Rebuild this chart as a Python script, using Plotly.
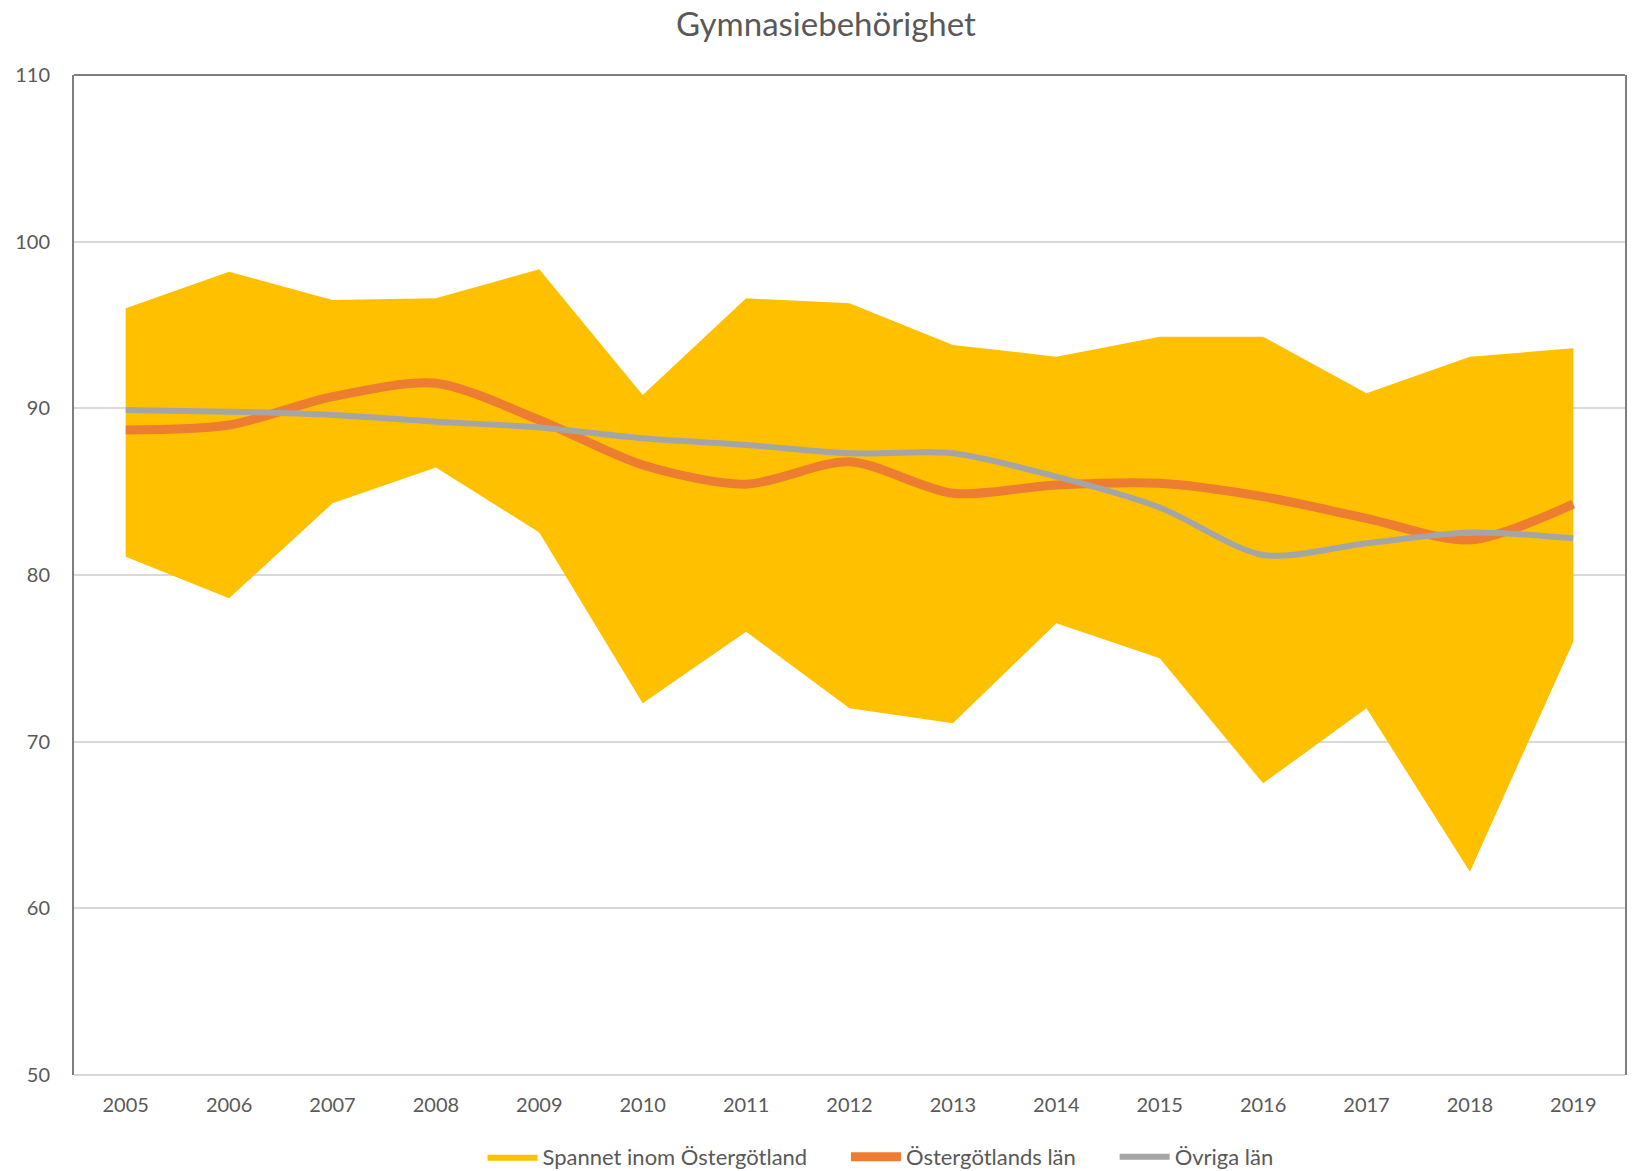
import plotly.graph_objects as go

years = ["2005", "2006", "2007", "2008", "2009", "2010", "2011", "2012",
         "2013", "2014", "2015", "2016", "2017", "2018", "2019"]
span_high = [96.0, 98.2, 96.5, 96.6, 98.35, 90.8, 96.6, 96.3, 93.8, 93.1, 94.3, 94.3, 90.9, 93.1, 93.6]
span_low = [81.1, 78.6, 84.3, 86.45, 82.55, 72.3, 76.6, 72.0, 71.1, 77.1, 75.0, 67.5, 72.0, 62.2, 76.0]
ostergotland = [88.7, 89.0, 90.7, 91.5, 89.3, 86.6, 85.45, 86.8, 84.9, 85.4, 85.5, 84.7, 83.4, 82.1, 84.25]
ovriga = [89.9, 89.8, 89.6, 89.2, 88.85, 88.2, 87.8, 87.3, 87.3, 85.9, 84.05, 81.2, 81.9, 82.55, 82.2]

FONT = "Lato"
TXT = "#595959"
PAD = "\u00a0" * 6

W, H = 1636, 1163  # page body has an 8px margin

fig = go.Figure()
fig.add_trace(go.Scatter(x=years, y=span_low, mode="lines", line=dict(width=0, color="#FFC000"),
                         showlegend=False, hoverinfo="skip"))
fig.add_trace(go.Scatter(x=years, y=span_high, mode="lines", line=dict(width=0, color="#FFC000"),
                         fill="tonexty", fillcolor="#FFC000", name="Spannet inom Östergötland" + PAD))
fig.add_trace(go.Scatter(x=years, y=ostergotland, mode="lines",
                         line=dict(color="#ED7D31", width=9, shape="spline", smoothing=0.8),
                         name="Östergötlands län" + PAD))
fig.add_trace(go.Scatter(x=years, y=ovriga, mode="lines",
                         line=dict(color="#A5A5A5", width=6, shape="spline", smoothing=0.8),
                         name="Övriga län"))

fig.update_layout(
    width=W, height=H,
    paper_bgcolor="white", plot_bgcolor="white",
    margin=dict(l=66, r=19, t=67, b=96, autoexpand=False),
    font=dict(family=FONT, color=TXT, size=20),
    title=dict(text="Gymnasiebehörighet", x=0.5, xanchor="center", y=1 - 16 / H, yanchor="middle",
               font=dict(family=FONT, size=33, color=TXT)),
    xaxis=dict(type="category", range=[-0.5, 14.5], showgrid=False, showline=False, zeroline=False,
               tickfont=dict(size=20, color=TXT), ticklabelstandoff=16, automargin=False),
    yaxis=dict(range=[50, 110], dtick=10, showgrid=True, gridcolor="#D9D9D9", gridwidth=2,
               showline=True, mirror=True, linecolor="#7F7F7F", linewidth=2, zeroline=False,
               tickfont=dict(size=20, color=TXT), ticklabelstandoff=18, automargin=False),
    legend=dict(orientation="h", x=0.52, xanchor="center", yref="container", y=1 - 1149 / H,
                yanchor="middle", traceorder="normal",
                font=dict(size=22, color=TXT), itemwidth=50, tracegroupgap=0),
    shapes=[
        dict(type="line", xref="paper", yref="paper", x0=0, x1=1, y0=1, y1=1,
             line=dict(color="#7F7F7F", width=2), layer="above"),
        dict(type="line", xref="paper", yref="paper", x0=0, x1=1, y0=0, y1=0,
             line=dict(color="#D9D9D9", width=2), layer="below"),
    ],
)

fig.write_html("out.html")
